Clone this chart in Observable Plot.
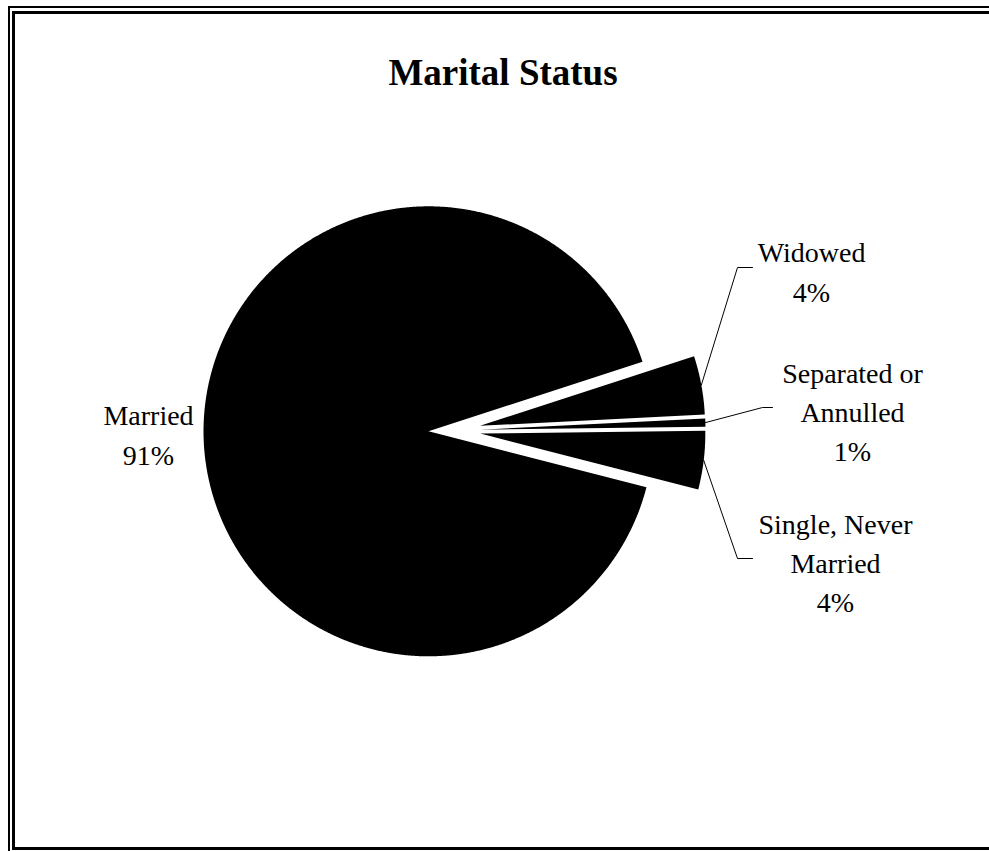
<!DOCTYPE html>
<html><head><meta charset="utf-8">
<script src="https://cdn.jsdelivr.net/npm/d3@7"></script>
<script src="https://cdn.jsdelivr.net/npm/@observablehq/plot@0.6"></script>
<style>
html,body{margin:0;padding:0;background:#fff;width:989px;height:851px;overflow:hidden;}
#chart{position:absolute;left:0;top:0;}
#outer{position:absolute;left:8px;top:6px;width:1100px;height:1100px;border:2px solid #000;box-sizing:border-box;pointer-events:none;}
#inner{position:absolute;left:12px;top:11px;width:1100px;height:839px;border:3px solid #000;box-sizing:border-box;pointer-events:none;}
#title{position:absolute;left:0;width:1006px;top:54px;text-align:center;font:bold 37px/37px "Liberation Serif","Times New Roman",serif;color:#000;}
</style></head><body>
<div id="chart"></div>
<div id="outer"></div>
<div id="inner"></div>
<div id="title">Marital Status</div>
<script>
// ---- data ----
const categories = ["Widowed", "Separated or Annulled", "Single, Never Married", "Married"];
const labelText = ["Widowed", "Separated or\nAnnulled", "Single, Never\nMarried", "Married"];
const values = [4.2, 0.6, 4.2, 91.0];
const percentLabels = ["4%", "1%", "4%", "91%"];

// ---- layout (pixels on the page) ----
const CX = 454, CY = 430, R = 225, W = 989, H = 851;
const explodePx = 26;
const startDeg = 72;
const labelPos = [[811, 269], [852, 409], [835, 560], [148, 432]];
const leaderBends = [[[737, 267], [752, 267]], [[762, 407], [772, 407]], [[737, 558], [752, 558]], null];

const toX = px => (px - CX) / R;
const toY = py => (CY - py) / R;

const rows = categories.map((c, i) => ({name: c, value: values[i]}));
const pie = d3.pie().sort(null).value(d => d.value)
  .startAngle(startDeg * Math.PI / 180).endAngle(startDeg * Math.PI / 180 + 2 * Math.PI);
const arcs = pie(rows);
const ex = explodePx / R;

const polys = [];
const leaders = [];
arcs.forEach((a, i) => {
  const name = a.data.name;
  const mid = (a.startAngle + a.endAngle) / 2;
  const ox = ex * Math.sin(mid), oy = ex * Math.cos(mid);
  polys.push({name, x: ox, y: oy});
  const n = Math.max(2, Math.ceil((a.endAngle - a.startAngle) / (Math.PI / 720)));
  for (let k = 0; k <= n; k++) {
    const t = a.startAngle + (a.endAngle - a.startAngle) * k / n;
    polys.push({name, x: ox + Math.sin(t), y: oy + Math.cos(t)});
  }
  if (leaderBends[i]) {
    leaders.push({name, x: ox + Math.sin(mid), y: oy + Math.cos(mid)});
    for (const [px, py] of leaderBends[i]) leaders.push({name, x: toX(px), y: toY(py)});
  }
});

const labels = categories.map((c, i) => ({
  name: c,
  text: labelText[i] + "\n" + percentLabels[i],
  x: toX(labelPos[i][0]),
  y: toY(labelPos[i][1])
}));

const chart = Plot.plot({
  width: W,
  height: H,
  margin: 0,
  style: {background: "transparent", overflow: "visible"},
  x: {domain: [toX(0), toX(W)], axis: null},
  y: {domain: [toY(H), toY(0)], axis: null},
  marks: [
    Plot.line(polys, {x: "x", y: "y", z: "name", fill: "black", stroke: "none", curve: "linear-closed"}),
    Plot.line(leaders, {x: "x", y: "y", z: "name", stroke: "black", strokeWidth: 1}),
    Plot.text(labels, {x: "x", y: "y", text: "text", textAnchor: "middle", lineHeight: 1.4,
      fontSize: 28, fontFamily: "Liberation Serif, Times New Roman, serif", fill: "black"})
  ]
});
document.getElementById("chart").appendChild(chart);
</script>
</body></html>
